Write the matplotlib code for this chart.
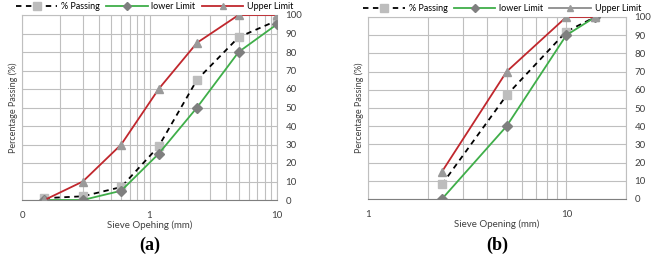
import matplotlib.pyplot as plt
import numpy as np
from matplotlib.lines import Line2D
from matplotlib.ticker import FixedLocator, LogLocator, NullFormatter

# chart (a)
sieve_a = [0.15, 0.3, 0.6, 1.18, 2.36, 5, 10]
passing_a = [1, 2, 7, 29, 65, 88, 97]
lower_a = [0, 0, 5, 25, 50, 80, 95]
upper_a = [0, 10, 30, 60, 85, 100, 100]

# chart (b)
sieve_b = [2.36, 5, 10, 14]
passing_b = [8, 57, 92, 100]
lower_b = [0, 40, 90, 100]
upper_b = [15, 70, 100, 100]

GREY = "#bfbfbf"
GREEN = "#3fae49"
RED = "#c0272d"
plt.rcParams["font.family"] = ["Lato", "DejaVu Sans"]

fig = plt.figure(figsize=(6.53, 2.6), dpi=100)
ax_a = fig.add_axes([22 / 653, 1 - 200 / 260, 255 / 653, 185 / 260])
ax_b = fig.add_axes([368 / 653, 1 - 199 / 260, 258 / 653, 182 / 260])


def draw(ax, x, p, lo, up, xlim, xt, xtl, xlabel, upper_legend_color):
    ax.plot(x, p, color="black", ls=(0, (3, 2.5)), lw=1.3, marker="s",
            ms=6, mfc="#bdbdbd", mec="#bdbdbd", zorder=3)
    ax.plot(x, lo, color=GREEN, lw=1.3, marker="D", ms=5,
            mfc="#7f7f7f", mec="#7f7f7f", zorder=3)
    ax.plot(x, up, color=RED, lw=1.3, marker="^", ms=6,
            mfc="#9a9a9a", mec="#9a9a9a", zorder=3)
    ax.set_xscale("log")
    ax.set_xlim(*xlim)
    ax.set_ylim(0, 100)
    ax.xaxis.set_major_locator(FixedLocator(xt))
    ax.set_xticklabels(xtl)
    ax.xaxis.set_minor_locator(LogLocator(base=10, subs=np.arange(2, 10)))
    ax.xaxis.set_minor_formatter(NullFormatter())
    ax.set_yticks(np.arange(0, 101, 10))
    ax.yaxis.tick_right()
    ax.tick_params(axis="both", which="both", length=0, labelsize=7,
                   colors="#404040")
    ax.tick_params(axis="x", pad=8)
    ax.tick_params(axis="y", pad=6)
    ax.grid(True, which="both", color=GREY, lw=0.8)
    for s in ax.spines.values():
        s.set_color(GREY)
        s.set_linewidth(0.8)
    ax.spines["bottom"].set_color("#7f7f7f")
    ax.set_xlabel(xlabel, fontsize=7, color="#404040", labelpad=0)
    ax.set_ylabel("Percentage Passing (%)", fontsize=6.5, color="#404040",
                  labelpad=3)
    handles = [
        Line2D([], [], color="black", ls=(0, (3, 2.5)), lw=1.3, marker="s",
               ms=6, mfc="#bdbdbd", mec="#bdbdbd"),
        Line2D([], [], color=GREEN, lw=1.3, marker="D", ms=4,
               mfc="#7f7f7f", mec="#7f7f7f"),
        Line2D([], [], color=upper_legend_color, lw=1.3, marker="^", ms=5,
               mfc="#9a9a9a", mec="#9a9a9a"),
    ]
    ax.legend(handles, ["% Passing", "lower Limit", "Upper Limit"],
              loc="lower center", bbox_to_anchor=(0.52, 1.02), ncol=3,
              frameon=False, fontsize=6.5, handlelength=4.6,
              columnspacing=0.7, handletextpad=0.4, borderaxespad=0.0,
              borderpad=0)


draw(ax_a, sieve_a, passing_a, lower_a, upper_a, (0.1, 10), [0.1, 1, 10],
     ["0", "1", "10"], "Sieve Opehing (mm)", RED)
draw(ax_b, sieve_b, passing_b, lower_b, upper_b, (1, 20), [1, 10],
     ["1", "10"], "Sieve Opening (mm)", "#8c8c8c")

fig.text(150 / 653, 1 - 245 / 260, "(a)", ha="center", va="center",
         fontsize=13, fontweight="bold", family="Liberation Serif")
fig.text(497 / 653, 1 - 245 / 260, "(b)", ha="center", va="center",
         fontsize=13, fontweight="bold", family="Liberation Serif")

fig.savefig("out.png", dpi=100)
